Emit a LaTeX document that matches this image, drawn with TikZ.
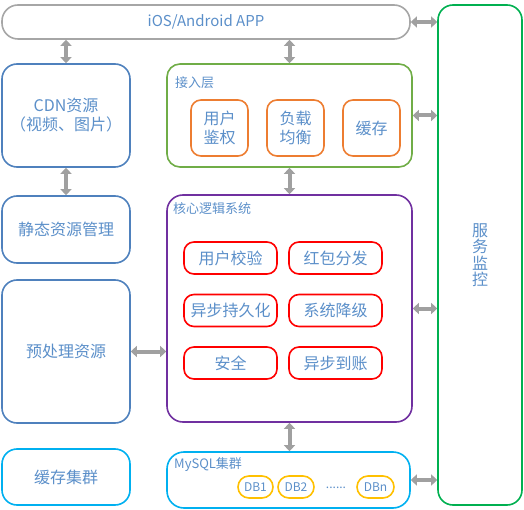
\documentclass[tikz,border=0pt]{standalone}
\usepackage{fontspec}
\setmainfont{Noto Sans CJK SC}
\usetikzlibrary{arrows.meta}
\definecolor{txt}{HTML}{5B8FC9}
\definecolor{appc}{HTML}{A6A6A6}
\definecolor{monc}{HTML}{00B050}
\definecolor{accc}{HTML}{70AD47}
\definecolor{orc}{HTML}{ED7D31}
\definecolor{corec}{HTML}{7030A0}
\definecolor{redc}{HTML}{FF0000}
\definecolor{sqlc}{HTML}{00B0F0}
\definecolor{dbc}{HTML}{FFC000}
\definecolor{leftc}{HTML}{4F81BD}
\definecolor{arrc}{HTML}{A0A0A0}
\begin{document}
\begin{tikzpicture}[x=1pt,y=-1pt,
  base/.style={draw, line width=1.6pt, inner sep=0pt, text=txt, align=center,
    font=\fontsize{16}{19}\selectfont},
  lbl/.style={text=txt, inner sep=0pt, anchor=west, font=\fontsize{13}{15}\selectfont},
  darr/.style={{Triangle[length=6pt,width=11pt]}-{Triangle[length=6pt,width=11pt]},
    line width=4pt, draw=arrc}]
\useasboundingbox (0,0) rectangle (524,510);

% top app and monitor
\node[base, draw=appc, minimum width=408pt, minimum height=34pt, rounded corners=16pt,
  font=\fontsize{15}{18}\selectfont] (app) at (206,22) {iOS/Android APP};
\node[base, draw=monc, minimum width=84pt, minimum height=500pt, rounded corners=15pt,
  font=\fontsize{16}{16.5}\selectfont] (mon) at (480,255) {服\\务\\监\\控};

% access layer
\node[base, draw=accc, minimum width=245pt, minimum height=103pt, rounded corners=13pt] (acc) at (289.5,115.5) {};
\node[lbl] (accl) at (175,83) {接入层};
\node[base, draw=orc, minimum width=57pt, minimum height=56pt, rounded corners=10pt] (a1) at (219.5,128) {用户\\鉴权};
\node[base, draw=orc, minimum width=57pt, minimum height=56pt, rounded corners=10pt] (a2) at (295.5,128) {负载\\均衡};
\node[base, draw=orc, minimum width=57pt, minimum height=56pt, rounded corners=10pt] (a3) at (371.5,128) {缓存};

% core
\node[base, draw=corec, minimum width=245pt, minimum height=227pt, rounded corners=16pt] (core) at (289.5,308.5) {};
\node[lbl] (corel) at (173,209) {核心逻辑系统};
\tikzset{redbox/.style={base, draw=redc, minimum width=93pt, minimum height=32pt, rounded corners=10pt}}
\node[redbox] (c1) at (230.5,258) {用户校验};
\node[redbox] (c2) at (335.5,258) {红包分发};
\node[redbox] (c3) at (230.5,310.5) {异步持久化};
\node[redbox] (c4) at (335.5,310.5) {系统降级};
\node[redbox] (c5) at (230.5,363) {安全};
\node[redbox] (c6) at (335.5,363) {异步到账};

% mysql
\node[base, draw=sqlc, minimum width=243pt, minimum height=56pt, rounded corners=17pt] (sql) at (288.5,480) {};
\node[lbl] (sqll) at (174,465) {MySQL集群};
\tikzset{dbbox/.style={base, draw=dbc, minimum height=22pt, rounded corners=11pt, font=\fontsize{12}{14}\selectfont}}
\node[dbbox, minimum width=35pt] (db1) at (255.5,487) {DB1};
\node[dbbox, minimum width=36pt] (db2) at (296,487) {DB2};
\node[text=txt, inner sep=0pt, font=\fontsize{12}{14}\selectfont] (dots) at (336,488) {......};
\node[dbbox, minimum width=37pt] (dbn) at (375.5,487) {DBn};

% left column
\tikzset{leftbox/.style={base, draw=leftc, minimum width=128pt, rounded corners=15pt}}
\node[leftbox, minimum height=103pt] (cdn) at (66,115.5) {CDN资源\\（视频、图片）};
\node[leftbox, minimum height=67pt] (stat) at (66,229.5) {静态资源管理};
\node[leftbox, minimum height=143pt] (pre) at (66,351.5) {预处理资源};
\node[leftbox, draw=sqlc, minimum height=56pt] (cache) at (66,477) {缓存集群};

% arrows
\draw[darr] (cdn.north) -- (cdn.north |- app.south);
\draw[darr] (acc.north) -- (acc.north |- app.south);
\draw[darr] (cdn.south) -- (stat.north);
\draw[darr] (acc.south) -- (core.north);
\draw[darr] (core.south) -- (core.south |- sql.north);
\draw[darr] (pre.east) -- (pre.east -| core.west);
\draw[darr] (app.east) -- (app.east -| mon.west);
\draw[darr] (acc.east) -- (acc.east -| mon.west);
\draw[darr] (core.east) -- (core.east -| mon.west);
\draw[darr] (sql.east) -- (sql.east -| mon.west);
\end{tikzpicture}
\end{document}
